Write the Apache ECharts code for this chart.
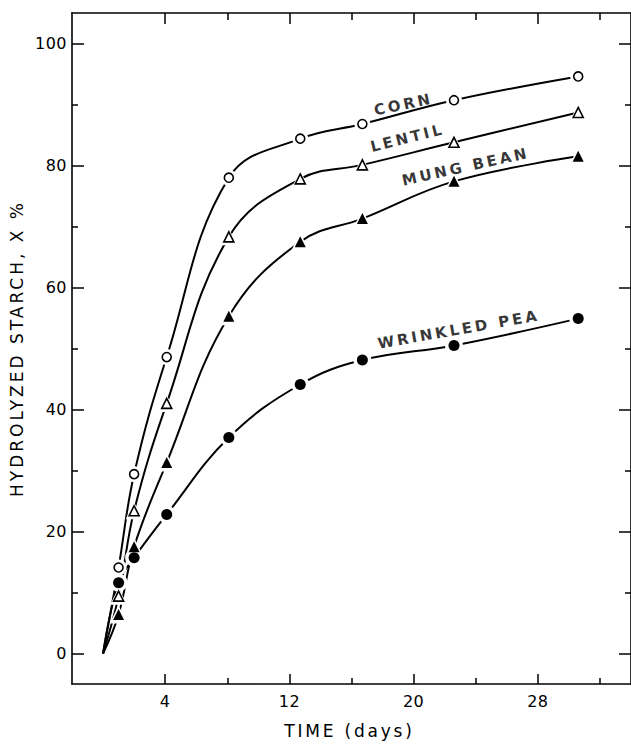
<!DOCTYPE html>
<html><head><meta charset="utf-8">
<script src="https://cdn.jsdelivr.net/npm/echarts@6/dist/echarts.min.js"></script>
<style>html,body{margin:0;padding:0;background:#fff}#c{width:631px;height:744px}</style>
</head><body><div id="c"></div>
<script>
// ---- data ----
const days        = [0, 1, 2, 4.1, 8.1, 12.7, 16.7, 22.6, 30.6];
const corn        = [0, 14.1, 29.4, 48.6, 78.0, 84.4, 86.8, 90.7, 94.6];
const lentil      = [0, 9.4, 23.4, 41.0, 68.3, 77.8, 80.1, 83.8, 88.7];
const mungBean    = [0, 6.4, 17.5, 31.3, 55.3, 67.5, 71.3, 77.4, 81.5];
const wrinkledPea = [0, 11.6, 15.7, 22.8, 35.4, 44.1, 48.1, 50.5, 54.9];
const seriesNames = ['CORN', 'LENTIL', 'MUNG BEAN', 'WRINKLED PEA'];
const xMajorTicks = [4, 12, 20, 28];
const xMinorTicks = [8, 16, 24, 32];
const yMajorTicks = [0, 20, 40, 60, 80, 100];
const yMinorTicks = [10, 30, 50, 70, 90];
const xTitle = 'TIME (days)';
const yTitle = 'HYDROLYZED STARCH, X %';

const FONT = 'DejaVu Sans';
const values = [corn, lentil, mungBean, wrinkledPea];
const markerStyles = [
  { symbol: 'circle',   size: 9,  fill: '#fff', border: 1.6 },
  { symbol: 'triangle', size: 10, fill: '#fff', border: 1.6 },
  { symbol: 'triangle', size: 11, fill: '#000', border: 0 },
  { symbol: 'circle',   size: 11, fill: '#000', border: 0 }
];
const annot = [
  { coord: [19.35, 90.0], rotate: 12 },
  { coord: [19.6, 84.5], rotate: 14 },
  { coord: [23.35, 79.8], rotate: 12.5 },
  { coord: [22.9, 53.1], rotate: 10 }
];

const pts = v => days.map((d, i) => [d, v[i]]);
const series = [];
values.forEach((v, k) => {
  series.push({
    type: 'line', name: seriesNames[k], data: pts(v), smooth: 0.4,
    showSymbol: false, symbol: 'none', z: 2,
    lineStyle: { color: '#000', width: 2 }
  });
});
values.forEach((v, k) => {
  const m = markerStyles[k];
  series.push({
    type: 'scatter', data: pts(v).slice(1), symbol: m.symbol,
    symbolSize: m.size + 7, z: 3, silent: true,
    itemStyle: { color: '#fff', opacity: 1 }
  });
});
values.forEach((v, k) => {
  const m = markerStyles[k];
  series.push({
    type: 'scatter', data: pts(v).slice(1), symbol: m.symbol,
    symbolSize: m.size, z: 4, silent: true,
    itemStyle: { color: m.fill, borderColor: '#000', borderWidth: m.border, opacity: 1 }
  });
});
series.push({
  type: 'scatter', z: 5, silent: true, symbolSize: 0,
  itemStyle: { color: '#000' },
  data: seriesNames.map((n, k) => ({
    name: n, value: annot[k].coord,
    label: { rotate: annot[k].rotate }
  })),
  label: {
    show: true, position: 'inside', formatter: '{b}',
    color: '#000', textBorderWidth: 0, fontFamily: FONT, fontSize: 15, fontWeight: 'bold'
  }
});

const X = { min: -2, max: 34 };
const Y = { min: -5, max: 105 };
const line = { show: true, onZero: false, lineStyle: { color: '#000', width: 1.6 } };
const noLine = { show: false, onZero: false };
function xAx(pos, ticks, len, labels, showLine) {
  return Object.assign({
    type: 'value', position: pos, splitLine: { show: false },
    axisLine: showLine ? line : noLine,
    axisTick: { show: true, inside: true, length: len, customValues: ticks, lineStyle: { color: '#000', width: 1.5 } },
    axisLabel: labels ? { show: true, customValues: ticks, margin: 9, color: '#000', fontFamily: FONT, fontSize: 16 } : { show: false }
  }, X);
}
function yAx(pos, ticks, len, labels, showLine) {
  return Object.assign({
    type: 'value', position: pos, splitLine: { show: false },
    axisLine: showLine ? line : noLine,
    axisTick: { show: true, inside: true, length: len, customValues: ticks, lineStyle: { color: '#000', width: 1.5 } },
    axisLabel: labels ? { show: true, customValues: ticks, margin: 5, color: '#000', fontFamily: FONT, fontSize: 16 } : { show: false }
  }, Y);
}
const xAxes = [
  xAx('bottom', xMajorTicks, 10, true, true),
  xAx('bottom', xMinorTicks, 6, false, false),
  xAx('top', xMajorTicks, 11, false, true),
  xAx('top', xMinorTicks, 7, false, false)
];
Object.assign(xAxes[0], {
  name: xTitle, nameLocation: 'middle', nameGap: 38,
  nameTextStyle: { color: '#000', fontFamily: FONT, fontSize: 17, padding: [0, 4, 0, 0] }
});
const yAxes = [
  yAx('left', yMajorTicks, 12, true, true),
  yAx('left', yMinorTicks, 6, false, false),
  yAx('right', yMajorTicks, 12, false, true),
  yAx('right', yMinorTicks, 6, false, false)
];
Object.assign(yAxes[0], {
  name: yTitle, nameLocation: 'middle', nameGap: 38,
  nameTextStyle: { color: '#000', fontFamily: FONT, fontSize: 17 }
});

const chart = echarts.init(document.getElementById('c'), null, { renderer: 'svg' });
chart.setOption({
  animation: false,
  backgroundColor: '#fff',
  grid: { left: 72, top: 13, width: 566, height: 672, containLabel: false },
  xAxis: xAxes,
  yAxis: yAxes,
  series: series
});

function spaceText() {
  document.querySelectorAll('#c svg text').forEach(t => {
    const s = t.textContent;
    let ls = 0.5;
    if (s === xTitle) ls = 2.8;
    else if (s === yTitle) ls = 3;
    else if (seriesNames.indexOf(s) >= 0) ls = 3;
    t.style.letterSpacing = ls + 'px';
  });
}
spaceText();
chart.on('finished', spaceText);
</script></body></html>
